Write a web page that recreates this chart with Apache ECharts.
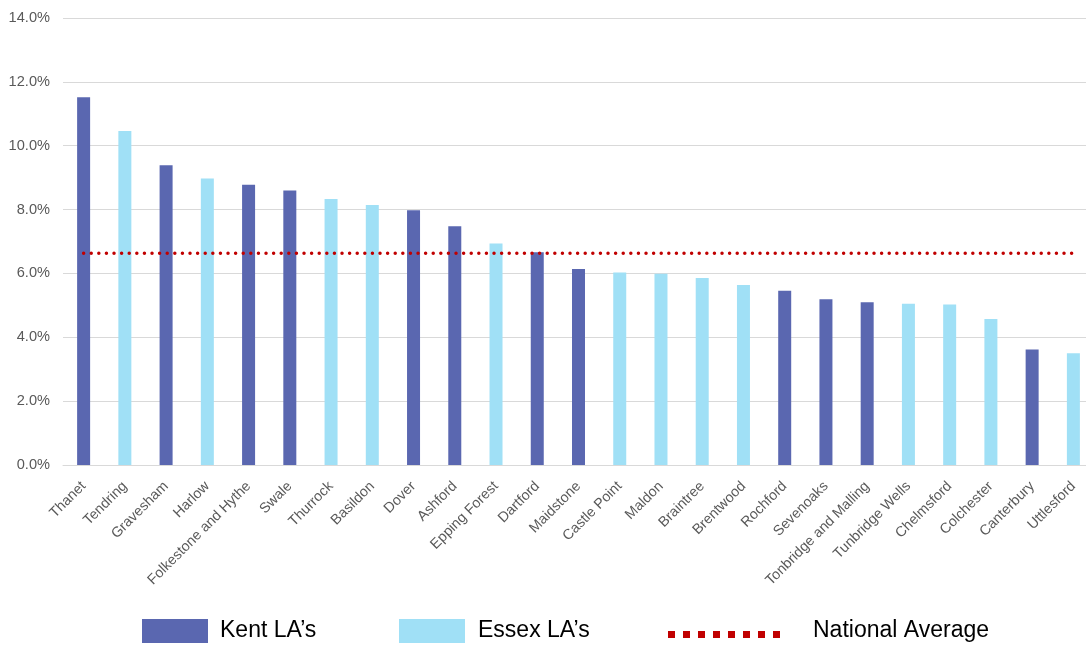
<!DOCTYPE html>
<html>
<head>
<meta charset="utf-8">
<style>
  html, body { margin: 0; padding: 0; background: #ffffff; }
  #chart { width: 1086px; height: 646px; }
</style>
<script src="https://cdn.jsdelivr.net/npm/echarts@6/dist/echarts.min.js"></script>
</head>
<body>
<div id="chart"></div>
<script>
// Local authorities, sorted by rate (%)
const categories = [
  'Thanet', 'Tendring', 'Gravesham', 'Harlow', 'Folkestone and Hythe', 'Swale',
  'Thurrock', 'Basildon', 'Dover', 'Ashford', 'Epping Forest', 'Dartford',
  'Maidstone', 'Castle Point', 'Maldon', 'Braintree', 'Brentwood', 'Rochford',
  'Sevenoaks', 'Tonbridge and Malling', 'Tunbridge Wells', 'Chelmsford',
  'Colchester', 'Canterbury', 'Uttlesford'
];

// Kent LA's (null where the authority belongs to the other group)
const kentValues = [
  11.52, null, 9.39, null, 8.78, 8.60,
  null, null, 7.98, 7.48, null, 6.66,
  6.14, null, null, null, null, 5.46,
  5.19, 5.10, null, null,
  null, 3.62, null
];

// Essex LA's
const essexValues = [
  null, 10.46, null, 8.97, null, null,
  8.33, 8.14, null, null, 6.94, null,
  null, 6.03, 5.99, 5.86, 5.64, null,
  null, null, 5.05, 5.03,
  4.57, null, 3.50
];

const nationalAverage = 6.63;
const yTicks = { min: 0, max: 14, interval: 2 };

const KENT = '#5A67B0';
const ESSEX = '#A0E0F6';
const RED = '#C00000';

// Dotted legend swatch: eight small squares sitting in the lower half of the icon box
let dotsPath = 'path://M0,0L0.001,0Z ';
for (let i = 0; i < 8; i++) {
  const x = (i * 15).toFixed(1);
  dotsPath += 'M' + x + ',7h7v7h-7z ';
}

const chart = echarts.init(document.getElementById('chart'), null, { renderer: 'canvas' });

const legendText = { fontFamily: 'Liberation Sans, Arial, sans-serif', fontSize: 23, lineHeight: 24, color: '#000000' };

chart.setOption({
  animation: false,
  backgroundColor: '#ffffff',
  // plot area runs slightly past the right edge of the canvas
  grid: { left: 63, width: 1031, top: 18, bottom: 181, containLabel: false, outerBoundsMode: 'none' },
  legend: [
    { data: [{ name: 'Kent LA’s', icon: 'rect' }], left: 142, top: 619, padding: 0, itemWidth: 66, itemHeight: 24, itemGap: 0,
      textStyle: Object.assign({ padding: [0, 0, 0, 7] }, legendText) },
    { data: [{ name: 'Essex LA’s', icon: 'rect' }], left: 399, top: 619, padding: 0, itemWidth: 66, itemHeight: 24, itemGap: 0,
      textStyle: Object.assign({ padding: [0, 0, 0, 8] }, legendText) },
    { data: [{ name: 'National Average', icon: dotsPath }], left: 668, top: 619, padding: 0, itemWidth: 112, itemHeight: 14, itemGap: 0,
      itemStyle: { color: RED }, textStyle: Object.assign({ padding: [0, 0, 0, 28] }, legendText) }
  ],
  xAxis: {
    type: 'category',
    data: categories,
    axisTick: { show: false },
    axisLine: { lineStyle: { color: '#D9D9D9', width: 1 } },
    axisLabel: {
      interval: 0,
      rotate: 45,
      margin: 19,
      color: '#595959',
      fontFamily: 'Liberation Sans, Arial, sans-serif',
      fontSize: 14.3
    }
  },
  yAxis: {
    type: 'value',
    min: yTicks.min,
    max: yTicks.max,
    interval: yTicks.interval,
    axisLine: { show: false },
    axisTick: { show: false },
    splitLine: { lineStyle: { color: '#D9D9D9', width: 1 } },
    axisLabel: {
      margin: 13,
      color: '#595959',
      fontFamily: 'Liberation Sans, Arial, sans-serif',
      fontSize: 14.6,
      formatter: v => v.toFixed(1) + '%'
    }
  },
  series: [
    {
      name: 'Kent LA’s',
      type: 'bar',
      data: kentValues,
      barWidth: 13,
      barGap: '-100%',
      itemStyle: { color: KENT },
      z: 2
    },
    {
      name: 'Essex LA’s',
      type: 'bar',
      data: essexValues,
      barWidth: 13,
      barGap: '-100%',
      itemStyle: { color: ESSEX },
      z: 2
    },
    {
      name: 'National Average',
      type: 'line',
      data: categories.map(() => nationalAverage),
      symbol: 'none',
      itemStyle: { color: RED },
      lineStyle: { color: RED, width: 3.5, type: [0, 7.6], cap: 'round' },
      z: 5
    }
  ]
});
</script>
</body>
</html>
